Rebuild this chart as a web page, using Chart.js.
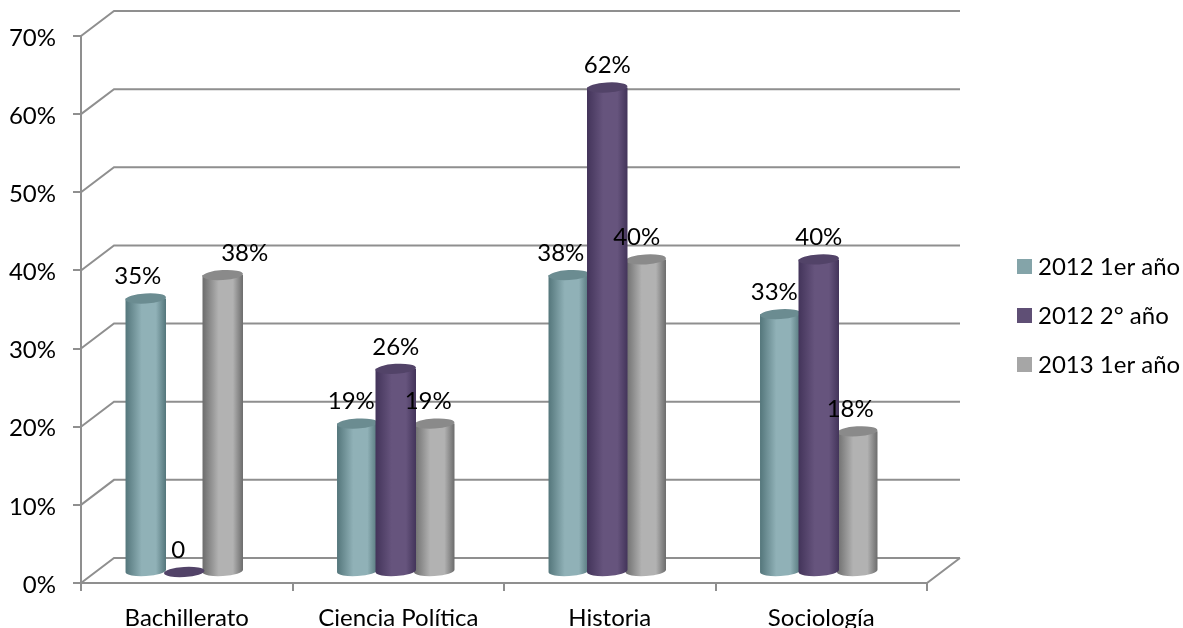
<!DOCTYPE html>
<html>
<head>
<meta charset="utf-8">
<style>
  html, body { margin: 0; padding: 0; background: #fff; }
  #chart { display: block; }
</style>
<script src="https://cdn.jsdelivr.net/npm/chart.js@4"></script>
</head>
<body>
<canvas id="chart" width="1183" height="628"></canvas>
<script>
const categories = ['Bachillerato', 'Ciencia Política', 'Historia', 'Sociología'];
const seriesNames = ['2012 1er año', '2012 2° año', '2013 1er año'];
const values2012a = [35, 19, 38, 33];
const values2012b = [0, 26, 62, 40];
const values2013a = [38, 19, 40, 18];
const yTickStep = 10;
const yMax = 70;

// flat colour for legend, then edge / middle / cap for the cylinders
const legendColors = ['#84a4a9', '#5f4f75', '#a6a6a6'];
const edgeColors = ['#54767b', '#43345a', '#6c6c6c'];
const midColors = ['#90b1b7', '#66547d', '#b2b2b2'];
const capColors = ['#6b8c91', '#524368', '#8a8a8a'];

const FONT = 'Lato, Carlito, sans-serif';
const FONT_SIZE = 24;
const GRID = '#8f8f8f';
const DEPTH_X = 33, DEPTH_Y = -25;   // back wall offset
const BAR_DX = -2.5, BAR_DY = -11;   // bars stand in the middle of the floor
const CAP_RY = 5;
const TEXT_DY = 2;                   // middle baseline sits a bit high with this font

// label shift from bar centre, by series then category (as placed in the original)
const labelShiftX = [[-8, -6, -8, -6], [-6, 0, 0, 0], [22, -6, -9, -7]];

const walls3d = {
    id: 'walls3d',
    beforeDatasetsDraw(chart) {
        const { ctx, scales: { x, y } } = chart;
        const left = x.left, right = x.right, bottom = y.bottom;
        ctx.save();
        ctx.strokeStyle = GRID;
        ctx.lineWidth = 2;
        y.ticks.forEach(t => {
            const py = y.getPixelForValue(t.value);
            ctx.beginPath();
            ctx.moveTo(left, py);
            ctx.lineTo(left + DEPTH_X, py + DEPTH_Y);
            ctx.lineTo(right + DEPTH_X, py + DEPTH_Y);
            ctx.stroke();
        });
        // floor front + right edge
        ctx.beginPath();
        ctx.moveTo(left, bottom);
        ctx.lineTo(right, bottom);
        ctx.lineTo(right + DEPTH_X, bottom + DEPTH_Y);
        ctx.stroke();

        // y labels, done here so they can sit a little lower than the tick
        ctx.fillStyle = '#000';
        ctx.font = FONT_SIZE + 'px ' + FONT;
        ctx.textAlign = 'right';
        ctx.textBaseline = 'middle';
        y.ticks.forEach(t => {
            ctx.fillText(t.value + '%', 56, y.getPixelForValue(t.value) + TEXT_DY);
        });
        ctx.restore();
    },
    beforeDatasetDraw() {
        return false; // bars are painted as cylinders below
    },
    afterDatasetsDraw(chart) {
        const { ctx } = chart;
        [0, 2, 1].forEach(i => {
            chart.getDatasetMeta(i).data.forEach(el => drawCylinder(ctx, el, i));
        });
        ctx.save();
        ctx.fillStyle = '#000';
        ctx.font = FONT_SIZE + 'px ' + FONT;
        ctx.textAlign = 'center';
        ctx.textBaseline = 'middle';
        chart.data.datasets.forEach((ds, i) => {
            chart.getDatasetMeta(i).data.forEach((el, j) => {
                const v = ds.data[j];
                const text = v === 0 ? '0' : v + '%';
                ctx.fillText(text, el.x + BAR_DX + labelShiftX[i][j], el.y + BAR_DY - 24 + TEXT_DY);
            });
        });
        ctx.restore();

        // legend: Chart.js can't do this box gap and row spacing together
        ctx.save();
        ctx.font = FONT_SIZE + 'px ' + FONT;
        ctx.textBaseline = 'middle';
        chart.data.datasets.forEach((ds, i) => {
            const rowY = 266 + i * 49;
            ctx.fillStyle = ds.backgroundColor;
            ctx.fillRect(1017, rowY - 7, 15, 15);
            ctx.fillStyle = '#000';
            ctx.fillText(ds.label, 1038, rowY + TEXT_DY - 1);
        });
        ctx.restore();
    }
};

function drawCylinder(ctx, el, i) {
    const cx = el.x + BAR_DX, top = el.y + BAR_DY, base = el.base + BAR_DY;
    const rx = el.width / 2 + 1;
    const tilt = -0.06;
    const g = ctx.createLinearGradient(cx - rx, 0, cx + rx, 0);
    g.addColorStop(0, edgeColors[i]);
    g.addColorStop(0.4, midColors[i]);
    g.addColorStop(0.75, midColors[i]);
    g.addColorStop(1, edgeColors[i]);
    ctx.save();
    if (base - top > 1) {
        ctx.fillStyle = g;
        ctx.beginPath();
        ctx.moveTo(cx - rx, top);
        ctx.lineTo(cx + rx, top);
        ctx.lineTo(cx + rx, base);
        ctx.ellipse(cx, base, rx, CAP_RY, tilt, 0, Math.PI);
        ctx.closePath();
        ctx.fill();
    }
    ctx.fillStyle = capColors[i];
    ctx.beginPath();
    ctx.ellipse(cx, top, rx, CAP_RY, tilt, 0, Math.PI * 2);
    ctx.fill();
    ctx.restore();
}

const ctx = document.getElementById('chart').getContext('2d');
new Chart(ctx, {
    type: 'bar',
    data: {
        labels: categories,
        datasets: [
            { label: seriesNames[0], data: values2012a, backgroundColor: legendColors[0], borderWidth: 0 },
            { label: seriesNames[1], data: values2012b, backgroundColor: legendColors[1], borderWidth: 0 },
            { label: seriesNames[2], data: values2013a, backgroundColor: legendColors[2], borderWidth: 0 }
        ]
    },
    options: {
        responsive: false,
        animation: false,
        layout: { padding: { top: 36, right: 256, bottom: 0, left: 0 } },
        datasets: { bar: { categoryPercentage: 0.546, barPercentage: 1 } },
        scales: {
            x: {
                grid: { drawOnChartArea: false, color: GRID, lineWidth: 2, tickLength: 8 },
                border: { color: GRID, width: 2 },
                ticks: { color: '#000', font: { family: FONT, size: FONT_SIZE }, padding: 13, maxRotation: 0 },
                afterFit(s) { s.height = 45; }
            },
            y: {
                min: 0,
                max: yMax,
                grid: { drawOnChartArea: false, color: GRID, lineWidth: 2, tickLength: 8 },
                border: { color: GRID, width: 2 },
                ticks: { stepSize: yTickStep, display: false },
                afterFit(s) { s.width = 81; }
            }
        },
        plugins: {
            tooltip: { enabled: false },
            legend: { display: false }
        }
    },
    plugins: [walls3d]
});
</script>
</body>
</html>
